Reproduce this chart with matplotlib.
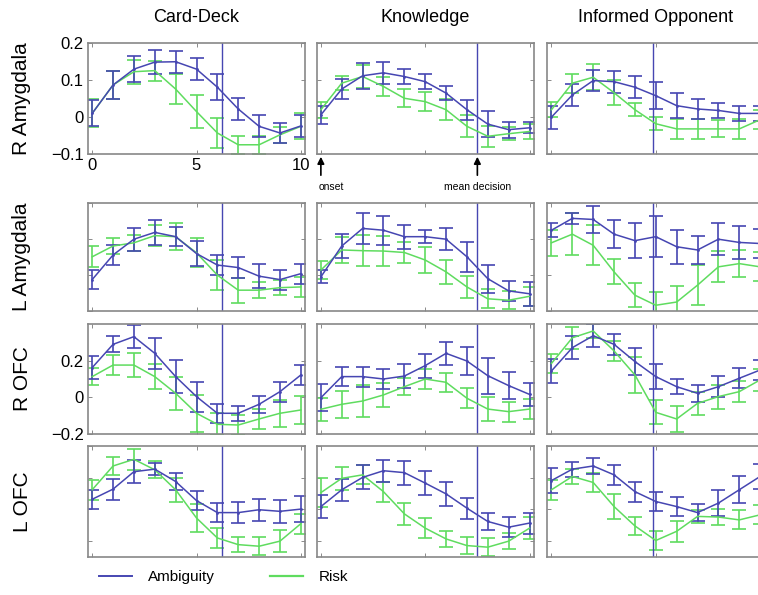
import matplotlib
matplotlib.use("Agg")
import matplotlib.pyplot as plt

plt.rcParams['font.family'] = ['Liberation Sans', 'DejaVu Sans']

# time points (scans after onset)
t = list(range(11))

columns = ["Card-Deck", "Knowledge", "Informed Opponent"]
rows = ["R Amygdala", "L Amygdala", "R OFC", "L OFC"]
decision = [6.2, 7.5, 4.85]

# ambiguity (blue) means / errors, row by row, column by column
amb_ramy_card = [0.01, 0.087, 0.13, 0.149, 0.15, 0.13, 0.081, 0.022, -0.025, -0.043, -0.024]
amb_ramy_card_err = [0.035, 0.038, 0.035, 0.033, 0.03, 0.03, 0.035, 0.03, 0.03, 0.027, 0.03]
amb_ramy_know = [0.006, 0.076, 0.112, 0.12, 0.11, 0.096, 0.065, 0.02, -0.019, -0.034, -0.029]
amb_ramy_know_err = [0.025, 0.027, 0.035, 0.03, 0.02, 0.02, 0.02, 0.027, 0.035, 0.022, 0.015]
amb_ramy_opp = [0.0, 0.06, 0.099, 0.096, 0.081, 0.058, 0.031, 0.022, 0.018, 0.01, 0.01]
amb_ramy_opp_err = [0.031, 0.029, 0.029, 0.03, 0.03, 0.036, 0.034, 0.026, 0.02, 0.021, 0.02]

amb_lamy_card = [-0.0125, 0.056, 0.1, 0.119, 0.107, 0.06, 0.028, 0.021, -0.003, -0.0125, 0.004]
amb_lamy_card_err = [0.026, 0.029, 0.032, 0.035, 0.026, 0.035, 0.028, 0.029, 0.033, 0.028, 0.028]
amb_lamy_know = [-0.005, 0.081, 0.13, 0.125, 0.107, 0.107, 0.1, 0.051, -0.01, -0.044, -0.052]
amb_lamy_know_err = [0.018, 0.034, 0.044, 0.041, 0.033, 0.018, 0.031, 0.042, 0.039, 0.027, 0.034]
amb_lamy_opp = [0.125, 0.158, 0.155, 0.114, 0.096, 0.107, 0.079, 0.07, 0.1, 0.091, 0.088]
amb_lamy_opp_err = [0.02, 0.016, 0.037, 0.039, 0.048, 0.057, 0.047, 0.039, 0.044, 0.045, 0.04]

amb_rofc_card = [0.162, 0.289, 0.331, 0.24, 0.113, 0.004, -0.087, -0.087, -0.038, 0.031, 0.122]
amb_rofc_card_err = [0.064, 0.043, 0.062, 0.085, 0.089, 0.082, 0.052, 0.042, 0.048, 0.055, 0.055]
amb_rofc_know = [-0.002, 0.113, 0.113, 0.1, 0.116, 0.173, 0.24, 0.198, 0.118, 0.064, 0.016]
amb_rofc_know_err = [0.073, 0.052, 0.055, 0.056, 0.067, 0.066, 0.061, 0.075, 0.099, 0.073, 0.061]
amb_rofc_opp = [0.144, 0.271, 0.336, 0.289, 0.195, 0.113, 0.058, 0.022, 0.058, 0.104, 0.149]
amb_rofc_opp_err = [0.066, 0.061, 0.064, 0.059, 0.073, 0.07, 0.041, 0.047, 0.057, 0.055, 0.055]

amb_lofc_card = [-0.068, -0.036, 0.019, 0.027, -0.012, -0.072, -0.11, -0.11, -0.101, -0.106, -0.099]
amb_lofc_card_err = [0.03, 0.033, 0.037, 0.02, 0.026, 0.031, 0.029, 0.034, 0.034, 0.036, 0.04]
amb_lofc_know = [-0.091, -0.038, 0.001, 0.022, 0.016, -0.017, -0.051, -0.096, -0.138, -0.156, -0.143]
amb_lofc_know_err = [0.037, 0.035, 0.038, 0.035, 0.038, 0.037, 0.038, 0.033, 0.027, 0.031, 0.033]
amb_lofc_opp = [-0.009, 0.027, 0.037, 0.009, -0.044, -0.075, -0.091, -0.11, -0.08, -0.038, 0.004]
amb_lofc_opp_err = [0.039, 0.024, 0.024, 0.031, 0.031, 0.031, 0.03, 0.028, 0.04, 0.042, 0.04]

# risk (green)
risk_ramy_card = [0.01, 0.087, 0.123, 0.126, 0.076, 0.015, -0.043, -0.075, -0.075, -0.048, -0.025]
risk_ramy_card_err = [0.038, 0.038, 0.033, 0.027, 0.04, 0.044, 0.04, 0.025, 0.024, 0.022, 0.035]
risk_ramy_know = [0.02, 0.092, 0.11, 0.083, 0.051, 0.042, 0.02, -0.025, -0.052, -0.045, -0.039]
risk_ramy_know_err = [0.022, 0.019, 0.031, 0.026, 0.024, 0.026, 0.029, 0.03, 0.028, 0.018, 0.02]
risk_ramy_opp = [0.02, 0.092, 0.108, 0.066, 0.02, -0.018, -0.032, -0.032, -0.032, -0.032, -0.007]
risk_ramy_opp_err = [0.02, 0.026, 0.035, 0.034, 0.017, 0.018, 0.027, 0.028, 0.023, 0.027, 0.025]

risk_lamy_card = [0.051, 0.081, 0.09, 0.11, 0.107, 0.062, 0.0, -0.042, -0.042, -0.035, -0.033]
risk_lamy_card_err = [0.029, 0.021, 0.023, 0.029, 0.038, 0.04, 0.042, 0.035, 0.022, 0.02, 0.027]
risk_lamy_know = [0.014, 0.07, 0.068, 0.067, 0.063, 0.042, 0.009, -0.033, -0.066, -0.07, -0.059]
risk_lamy_know_err = [0.026, 0.035, 0.043, 0.043, 0.03, 0.035, 0.034, 0.03, 0.027, 0.025, 0.027]
risk_lamy_opp = [0.09, 0.114, 0.083, 0.009, -0.056, -0.084, -0.075, -0.028, 0.023, 0.032, 0.023]
risk_lamy_opp_err = [0.037, 0.058, 0.056, 0.035, 0.033, 0.036, 0.045, 0.056, 0.043, 0.038, 0.04]

risk_rofc_card = [0.113, 0.176, 0.176, 0.113, 0.022, -0.087, -0.147, -0.151, -0.118, -0.087, -0.069]
risk_rofc_card_err = [0.045, 0.053, 0.066, 0.069, 0.091, 0.1, 0.06, 0.055, 0.057, 0.073, 0.077]
risk_rofc_know = [-0.065, -0.038, -0.02, 0.013, 0.058, 0.1, 0.082, -0.005, -0.064, -0.078, -0.064]
risk_rofc_know_err = [0.064, 0.075, 0.089, 0.066, 0.045, 0.052, 0.052, 0.055, 0.066, 0.055, 0.055]
risk_rofc_opp = [0.185, 0.325, 0.362, 0.253, 0.122, -0.082, -0.118, -0.033, 0.004, 0.031, 0.095]
risk_rofc_opp_err = [0.052, 0.059, 0.038, 0.056, 0.1, 0.066, 0.073, 0.064, 0.066, 0.057, 0.06]

risk_lofc_card = [-0.038, 0.037, 0.058, 0.025, -0.038, -0.127, -0.19, -0.211, -0.216, -0.2, -0.145]
risk_lofc_card_err = [0.031, 0.029, 0.034, 0.027, 0.038, 0.045, 0.033, 0.024, 0.029, 0.035, 0.031]
risk_lofc_know = [-0.047, -0.002, 0.009, -0.044, -0.114, -0.159, -0.193, -0.214, -0.219, -0.2, -0.159]
risk_lofc_know_err = [0.045, 0.036, 0.03, 0.031, 0.035, 0.031, 0.026, 0.026, 0.029, 0.026, 0.034]
risk_lofc_opp = [-0.038, 0.004, -0.015, -0.091, -0.152, -0.198, -0.169, -0.122, -0.124, -0.133, -0.117]
risk_lofc_opp_err = [0.031, 0.025, 0.03, 0.04, 0.029, 0.029, 0.034, 0.021, 0.024, 0.03, 0.03]

amb = [[amb_ramy_card, amb_ramy_know, amb_ramy_opp],
       [amb_lamy_card, amb_lamy_know, amb_lamy_opp],
       [amb_rofc_card, amb_rofc_know, amb_rofc_opp],
       [amb_lofc_card, amb_lofc_know, amb_lofc_opp]]
amb_err = [[amb_ramy_card_err, amb_ramy_know_err, amb_ramy_opp_err],
           [amb_lamy_card_err, amb_lamy_know_err, amb_lamy_opp_err],
           [amb_rofc_card_err, amb_rofc_know_err, amb_rofc_opp_err],
           [amb_lofc_card_err, amb_lofc_know_err, amb_lofc_opp_err]]
risk = [[risk_ramy_card, risk_ramy_know, risk_ramy_opp],
        [risk_lamy_card, risk_lamy_know, risk_lamy_opp],
        [risk_rofc_card, risk_rofc_know, risk_rofc_opp],
        [risk_lofc_card, risk_lofc_know, risk_lofc_opp]]
risk_err = [[risk_ramy_card_err, risk_ramy_know_err, risk_ramy_opp_err],
            [risk_lamy_card_err, risk_lamy_know_err, risk_lamy_opp_err],
            [risk_rofc_card_err, risk_rofc_know_err, risk_rofc_opp_err],
            [risk_lofc_card_err, risk_lofc_know_err, risk_lofc_opp_err]]

ylims = [(-0.1, 0.2), (-0.1, 0.2), (-0.2, 0.4), (-0.25, 0.1)]
yticks = [[-0.1, 0, 0.1, 0.2], [-0.1, 0, 0.1, 0.2], [-0.2, 0, 0.2], [-0.2, -0.1, 0, 0.1]]
yticklabels = [["\u22120.1", "0", "0.1", "0.2"], None, ["\u22120.2", "0", "0.2"], None]

blue = "#4646b2"
green = "#5fdc5f"

W, H = 758, 595
fig = plt.figure(figsize=(W / 100, H / 100), dpi=100)

col_left = [88, 316.7, 547.3]
col_w = 217
row_box = [(43.3, 154), (203.3, 311), (324, 434), (446, 557)]

for r in range(4):
    top, bot = row_box[r]
    for c in range(3):
        ax = fig.add_axes([col_left[c] / W, 1 - bot / H, col_w / W, (bot - top) / H])
        ax.errorbar(t, risk[r][c], yerr=risk_err[r][c], color=green, lw=1.1,
                    elinewidth=1.2, capsize=5, capthick=1.2)
        ax.errorbar(t, amb[r][c], yerr=amb_err[r][c], color=blue, lw=1.1,
                    elinewidth=1.2, capsize=5, capthick=1.2, marker='.', ms=2)
        ax.axvline(decision[c], color=blue, lw=1)
        ax.set_xlim(-0.2, 10.2)
        ax.set_ylim(*ylims[r])
        ax.set_xticks([0, 5, 10])
        ax.set_yticks(yticks[r])
        ax.tick_params(direction='in', length=3, width=0.6, color='#777777',
                       top=True, right=True, labelsize=12, pad=3)
        for s in ax.spines.values():
            s.set_color('#888888')
            s.set_linewidth(1.2)
        if r == 0 and c == 0:
            ax.set_xticklabels(["0", "5", "10"])
        else:
            ax.set_xticklabels([])
        if c == 0 and yticklabels[r] is not None:
            ax.set_yticklabels(yticklabels[r])
        else:
            ax.set_yticklabels([])
        if r == 0:
            ax.set_title(columns[c], fontsize=13, pad=15)
        if c == 0:
            fig.text(22 / W, 1 - (top + bot) / 2 / H, rows[r], rotation=90,
                     ha='center', va='center', fontsize=15)
        if r == 0 and c == 1:
            ax.annotate("", xy=(0, -0.1), xycoords='data',
                        xytext=(0, -0.165), textcoords='data',
                        arrowprops=dict(arrowstyle='-|>', color='black', lw=1.2),
                        annotation_clip=False)
            ax.annotate("", xy=(decision[c], -0.1), xycoords='data',
                        xytext=(decision[c], -0.165), textcoords='data',
                        arrowprops=dict(arrowstyle='-|>', color='black', lw=1.2),
                        annotation_clip=False)
            ax.text(-0.1, -0.19, "onset", fontsize=7.5, ha='left', va='center')
            ax.text(decision[c], -0.19, "mean decision", fontsize=7.5,
                    ha='center', va='center')

# legend at the bottom
fig.legend(handles=[plt.Line2D([], [], color=blue, lw=1.4),
                    plt.Line2D([], [], color=green, lw=1.6)],
           labels=["Ambiguity", "Risk"], loc='lower left',
           bbox_to_anchor=(85 / W, -0.005), ncol=2, frameon=False,
           fontsize=11, handlelength=2.2, handletextpad=1.0, columnspacing=3.6)

fig.savefig("out.png", dpi=100)
